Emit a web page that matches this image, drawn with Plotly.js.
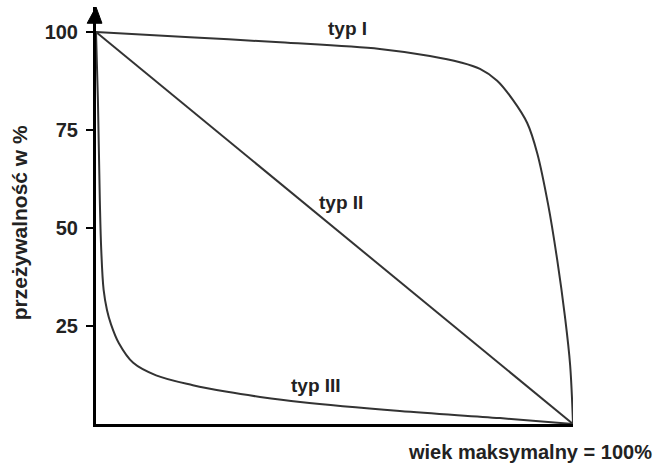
<!DOCTYPE html>
<html>
<head>
<meta charset="utf-8">
<script src="https://cdn.plot.ly/plotly-3.0.1.min.js"></script>
<style>html,body{margin:0;padding:0;background:#fff;}#chart{width:658px;height:468px;}</style>
</head>
<body>
<div id="chart"></div>
<script>
// Survivorship curves (x = % of maximum age, y = survival %)
const typ1X = [0, 19.7, 38.6, 59.5, 70.0, 76.3, 80.5, 84.1, 87.4, 90.4, 92.5, 94.8, 96.7, 98.3, 99.4, 100];
const typ1Y = [100, 98.7, 97.4, 95.7, 93.9, 92.3, 90.6, 87.6, 82.7, 76.8, 69.1, 55.9, 41.8, 27.5, 15.0, 0];
const typ2X = [0, 100];
const typ2Y = [100, 0];
const typ3X = [0, 0.4, 0.8, 1.1, 1.6, 2.3, 3.1, 4.8, 7.8, 12.6, 20.3, 27.5, 34.4, 42.8, 63.7, 84.7, 100];
const typ3Y = [100, 82.7, 57.1, 44.4, 34.2, 29.1, 25.6, 20.6, 15.6, 12.4, 9.9, 8.2, 6.9, 5.6, 3.3, 1.5, 0];
const yTickVals = [25, 50, 75, 100];
const yTickText = ['25', '50', '75', '100'];
const curveLabels = ['typ I', 'typ II', 'typ III'];
const yTitle = 'przeżywalność w %';
const xTitle = 'wiek maksymalny = 100%';

const lineStyle = {color: '#333', width: 2, shape: 'spline', smoothing: 1};
const traces = [
  {x: typ1X, y: typ1Y, mode: 'lines', line: lineStyle, hoverinfo: 'skip'},
  {x: typ2X, y: typ2Y, mode: 'lines', line: {color: '#333', width: 2}, hoverinfo: 'skip'},
  {x: typ3X, y: typ3Y, mode: 'lines', line: lineStyle, hoverinfo: 'skip'}
];
const fam = 'Liberation Sans, Arial, sans-serif';
const bold = (s) => ({family: fam, size: s, color: '#222', weight: 'bold'});
const ann = (text, x, y, xref, yref, size, extra) => Object.assign({
  text: text, x: x, y: y, xref: xref, yref: yref, showarrow: false,
  xanchor: 'center', yanchor: 'middle', font: bold(size)
}, extra || {});
const layout = {
  width: 658, height: 468,
  margin: {l: 96, r: 85, t: 7, b: 44},
  paper_bgcolor: '#fff', plot_bgcolor: '#fff',
  showlegend: false,
  xaxis: {range: [0, 100], showgrid: false, zeroline: false, showline: true, linecolor: '#000', linewidth: 3,
          showticklabels: false, ticks: ''},
  yaxis: {range: [0, 106.4], showgrid: false, zeroline: false, showline: true, linecolor: '#000', linewidth: 3,
          tickvals: yTickVals, ticktext: yTickText, ticks: 'outside', ticklen: 7, tickwidth: 2, tickcolor: '#000',
          ticklabelstandoff: 4, tickfont: bold(20)},
  shapes: [
    {type: 'path', xref: 'paper', yref: 'paper', path: 'M -0.0185,0.961 L 0,1.0 L 0.0125,0.961 Z', fillcolor: '#000', line: {color: '#000', width: 1}}
  ],
  annotations: [
    ann(curveLabels[0], 52.8, 101.0, 'x', 'y', 19),
    ann(curveLabels[1], 51.4, 56.6, 'x', 'y', 19),
    ann(curveLabels[2], 46.1, 9.9, 'x', 'y', 19),
    ann(yTitle, -0.161, 0.482, 'paper', 'paper', 21, {textangle: -90}),
    ann(xTitle, 0.91, -0.067, 'paper', 'paper', 20)
  ]
};
Plotly.newPlot('chart', traces, layout, {displayModeBar: false, staticPlot: true});
</script>
</body>
</html>
